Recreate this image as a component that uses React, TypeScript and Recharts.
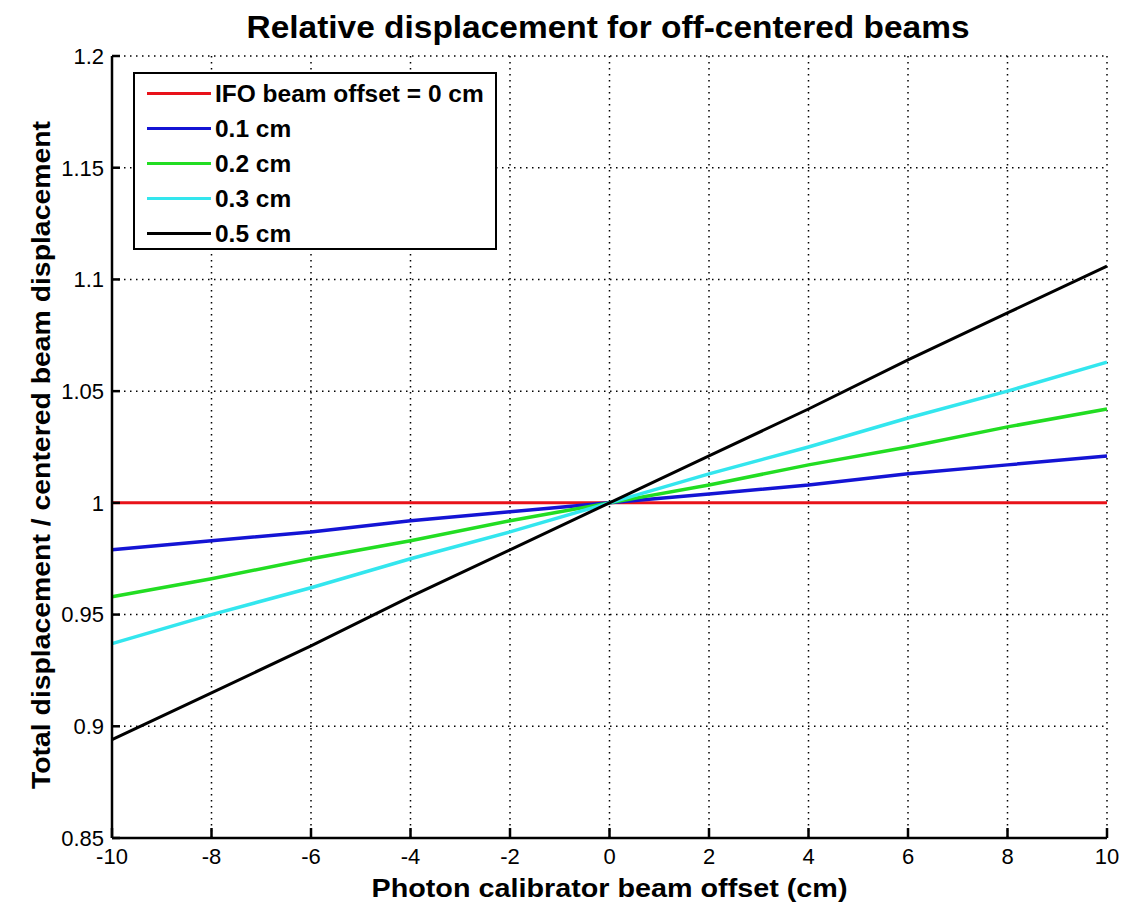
import React from 'react';
import { LineChart, Line, XAxis, YAxis, CartesianGrid, Legend, Label } from 'recharts';

const COLORS = {
  off0: '#e8121a',
  off01: '#1414d4',
  off02: '#22dd22',
  off03: '#33e6ee',
  off05: '#000000',
};

// photon calibrator beam offset (cm)
const xValues = [-10, -8, -6, -4, -2, 0, 2, 4, 6, 8, 10];
// total displacement / centered beam displacement, per IFO beam offset
const offset0 = [1, 1, 1, 1, 1, 1, 1, 1, 1, 1, 1];
const offset01 = [0.979, 0.983, 0.987, 0.992, 0.996, 1, 1.004, 1.008, 1.013, 1.017, 1.021];
const offset02 = [0.958, 0.966, 0.975, 0.983, 0.992, 1, 1.008, 1.017, 1.025, 1.034, 1.042];
const offset03 = [0.937, 0.95, 0.962, 0.975, 0.987, 1, 1.013, 1.025, 1.038, 1.05, 1.063];
const offset05 = [0.894, 0.915, 0.936, 0.958, 0.979, 1, 1.021, 1.042, 1.064, 1.085, 1.106];

const xTicks = [-10, -8, -6, -4, -2, 0, 2, 4, 6, 8, 10];
const yTicks = [0.85, 0.9, 0.95, 1, 1.05, 1.1, 1.15, 1.2];

const series = [
  { key: 'o0', name: 'IFO beam offset = 0 cm', values: offset0, color: COLORS.off0, width: 3 },
  { key: 'o01', name: '0.1 cm', values: offset01, color: COLORS.off01, width: 3.5 },
  { key: 'o02', name: '0.2 cm', values: offset02, color: COLORS.off02, width: 3.5 },
  { key: 'o03', name: '0.3 cm', values: offset03, color: COLORS.off03, width: 3.5 },
  { key: 'o05', name: '0.5 cm', values: offset05, color: COLORS.off05, width: 3 },
];

const data = xValues.map((x, i) => {
  const row: Record<string, number> = { x };
  series.forEach((s) => { row[s.key] = s.values[i]; });
  return row;
});

const FONT = '"Liberation Sans", Arial, sans-serif';

const XTick = ({ x, y, payload }: any) => (
  <text x={x} y={y} dy="0.71em" textAnchor="middle" fontFamily={FONT} fontSize={22} fill="#000">
    {payload.value}
  </text>
);

const YTick = ({ x, y, payload }: any) => (
  <text x={x} y={y} dy="0.36em" textAnchor="end" fontFamily={FONT} fontSize={22} fill="#000">
    {payload.value}
  </text>
);

const LegendBox = () => (
  <div
    style={{
      background: '#fff',
      border: '2px solid #000',
      width: 360,
      height: 172,
      boxSizing: 'content-box',
      fontFamily: FONT,
      fontWeight: 'bold',
      fontSize: 24,
      paddingTop: 2,
      lineHeight: 1,
    }}
  >
    {series.map((s) => (
      <div key={s.key} style={{ display: 'flex', alignItems: 'center', height: 35, whiteSpace: 'nowrap' }}>
        <div style={{ width: 64, height: 3, background: s.color, marginLeft: 12, marginRight: 4, flex: 'none' }} />
        <span style={{ display: 'inline-block', transform: 'scaleX(1.02)', transformOrigin: '0 50%' }}>{s.name}</span>
      </div>
    ))}
  </div>
);

export default function App() {
  return (
    <div style={{ position: 'absolute', left: 0, top: 0, width: 1135, height: 907, background: '#fff' }}>
      <LineChart width={1135} height={907} data={data} margin={{ top: 56, right: 28, left: 0, bottom: 0 }}>
        <CartesianGrid stroke="#000" strokeWidth={1.5} strokeDasharray="1.5 4.5" />
        <XAxis
          dataKey="x"
          type="number"
          domain={[-10, 10]}
          ticks={xTicks}
          height={69}
          axisLine={{ stroke: '#000', strokeWidth: 2.5 }}
          tickLine={{ stroke: '#000', strokeWidth: 2.5 }}
          tickSize={-10}
          tickMargin={20}
          tick={<XTick />}
          interval={0}
        >
          <Label
            content={({ viewBox }: any) => (
              <text
                x={viewBox.x + viewBox.width / 2}
                y={897}
                textAnchor="middle"
                textLength={476}
                lengthAdjust="spacingAndGlyphs"
                fontFamily={FONT}
                fontWeight="bold"
                fontSize={25}
                fill="#000"
              >
                Photon calibrator beam offset (cm)
              </text>
            )}
          />
        </XAxis>
        <XAxis
          xAxisId="top"
          orientation="top"
          dataKey="x"
          type="number"
          domain={[-10, 10]}
          ticks={xTicks}
          height={0}
          axisLine={{ stroke: '#000', strokeWidth: 2.5 }}
          tickLine={{ stroke: '#000', strokeWidth: 2.5 }}
          tickSize={-10}
          tick={false}
        />
        <YAxis
          type="number"
          domain={[0.85, 1.2]}
          ticks={yTicks}
          width={112}
          axisLine={{ stroke: '#000', strokeWidth: 2.5 }}
          tickLine={{ stroke: '#000', strokeWidth: 2.5 }}
          tickSize={-8}
          tickMargin={16}
          tick={<YTick />}
          interval={0}
          allowDataOverflow
        >
          <Label
            content={() => (
              <text
                x={41}
                y={455}
                transform="rotate(-90 41 455)"
                textAnchor="middle"
                dominantBaseline="central"
                textLength={668}
                lengthAdjust="spacingAndGlyphs"
                fontFamily={FONT}
                fontWeight="bold"
                fontSize={25}
                fill="#000"
              >
                Total displacement / centered beam displacement
              </text>
            )}
          />
          <Label
            content={() => (
              <text
                x={608}
                y={38}
                textAnchor="middle"
                textLength={723}
                lengthAdjust="spacingAndGlyphs"
                fontFamily={FONT}
                fontWeight="bold"
                fontSize={32}
                fill="#000"
              >
                Relative displacement for off-centered beams
              </text>
            )}
          />
        </YAxis>
        <YAxis
          yAxisId="right"
          orientation="right"
          type="number"
          domain={[0.85, 1.2]}
          ticks={yTicks}
          width={0}
          axisLine={{ stroke: '#000', strokeWidth: 2.5 }}
          tickLine={{ stroke: '#000', strokeWidth: 2.5 }}
          tickSize={-8}
          tick={false}
        />
        {series.map((s) => (
          <Line
            key={s.key}
            dataKey={s.key}
            name={s.name}
            stroke={s.color}
            strokeWidth={s.width}
            dot={false}
            activeDot={false}
            type="linear"
            isAnimationActive={false}
          />
        ))}
        <Legend
          layout="horizontal"
          verticalAlign="middle"
          align="center"
          content={() => <LegendBox />}
          wrapperStyle={{ left: 133, top: 72, width: 'auto', bottom: 'auto' }}
        />
      </LineChart>
    </div>
  );
}
